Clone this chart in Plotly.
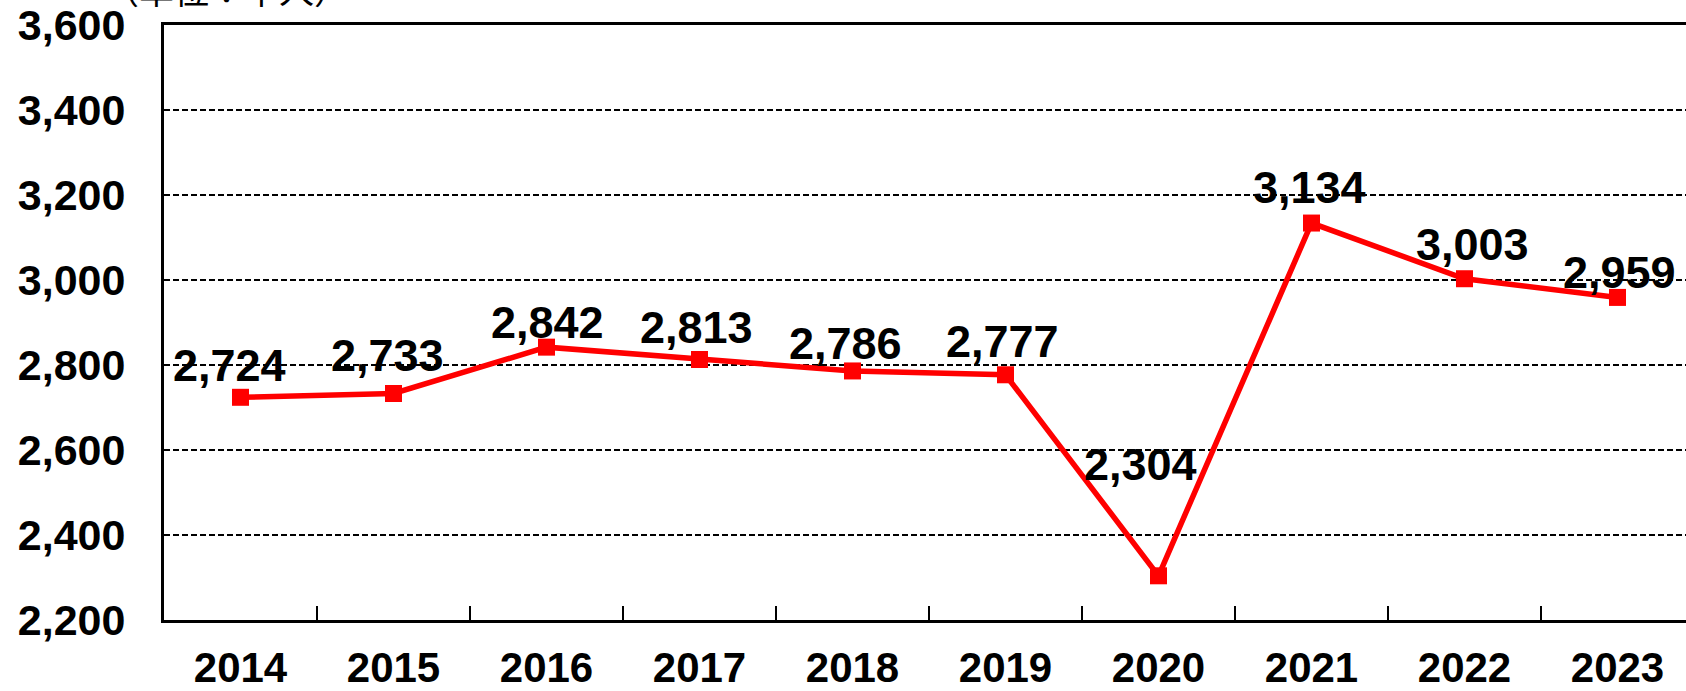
import plotly.graph_objects as go

years = ["2014", "2015", "2016", "2017", "2018", "2019", "2020", "2021", "2022", "2023"]
visitors = [2724, 2733, 2842, 2813, 2786, 2777, 2304, 3134, 3003, 2959]
y_ticks = [2200, 2400, 2600, 2800, 3000, 3200, 3400, 3600]
unit_text = "（単位：千人）"

# label offsets (style only, in pixels)
label_dx = [-11, -6, 1, -3, -7, -3, -18, -2, 8, 2]
label_dy = [32, 38, 25, 32, 27, 33, 111, 36, 34, 25]

W, H = 1686, 691
L, R, T, B = 164, 0, 25, 71
plot_w = W - L - R
plot_h = H - T - B
unit_px = 153.0
x_max = -0.5 + plot_w / unit_px

fig = go.Figure()
fig.add_trace(go.Scatter(
    x=years, y=visitors, mode="lines+markers",
    line=dict(color="#FF0000", width=5.5),
    marker=dict(symbol="square", size=17, color="#FF0000"),
    showlegend=False, cliponaxis=False,
))

annotations = []
for i, v in enumerate(visitors):
    # category axis: annotation x is the category's serial index
    annotations.append(dict(
        x=i, y=v, xref="x", yref="y", text="<b>" + f"{v:,}" + "</b>", showarrow=False,
        xshift=label_dx[i], yshift=label_dy[i],
        font=dict(family="Liberation Sans, Arial", size=45, color="black"),
    ))

annotations.append(dict(
    xref="paper", yref="paper", x=(226 - L) / plot_w, y=1 + (T + 12) / plot_h,
    xanchor="center", yanchor="middle", text=unit_text, showarrow=False,
    font=dict(family="Noto Sans CJK JP", size=35, color="black"),
))

fig.update_layout(
    width=W, height=H,
    margin=dict(l=L, r=R, t=T, b=B, pad=0, autoexpand=False),
    plot_bgcolor="white", paper_bgcolor="white",
    annotations=annotations,
    xaxis=dict(
        type="category", range=[-0.5, x_max], automargin=False,
        showline=True, linecolor="black", linewidth=3, mirror=True,
        ticks="inside", tickson="boundaries", ticklen=14, tickwidth=1.5, tickcolor="black",
        showgrid=False,
        tickfont=dict(family="Liberation Sans, Arial", size=42, color="black"),
        tickprefix="<b>", ticksuffix="</b>",
        ticklabelstandoff=9,
    ),
    yaxis=dict(
        range=[2200, 3600], tickvals=y_ticks, automargin=False,
        ticktext=["<b>" + f"{t:,}" + "</b>" for t in y_ticks],
        showline=True, linecolor="black", linewidth=3,
        showgrid=True, gridcolor="black", gridwidth=2, griddash="6px,3px",
        zeroline=False, ticks="",
        tickfont=dict(family="Liberation Sans, Arial", size=43, color="black"),
        ticklabelstandoff=27,
    ),
)

fig.write_html(
    "out.html",
    config={"displayModeBar": False},
    post_script="document.body.style.margin='0';document.body.style.overflow='hidden';",
)
